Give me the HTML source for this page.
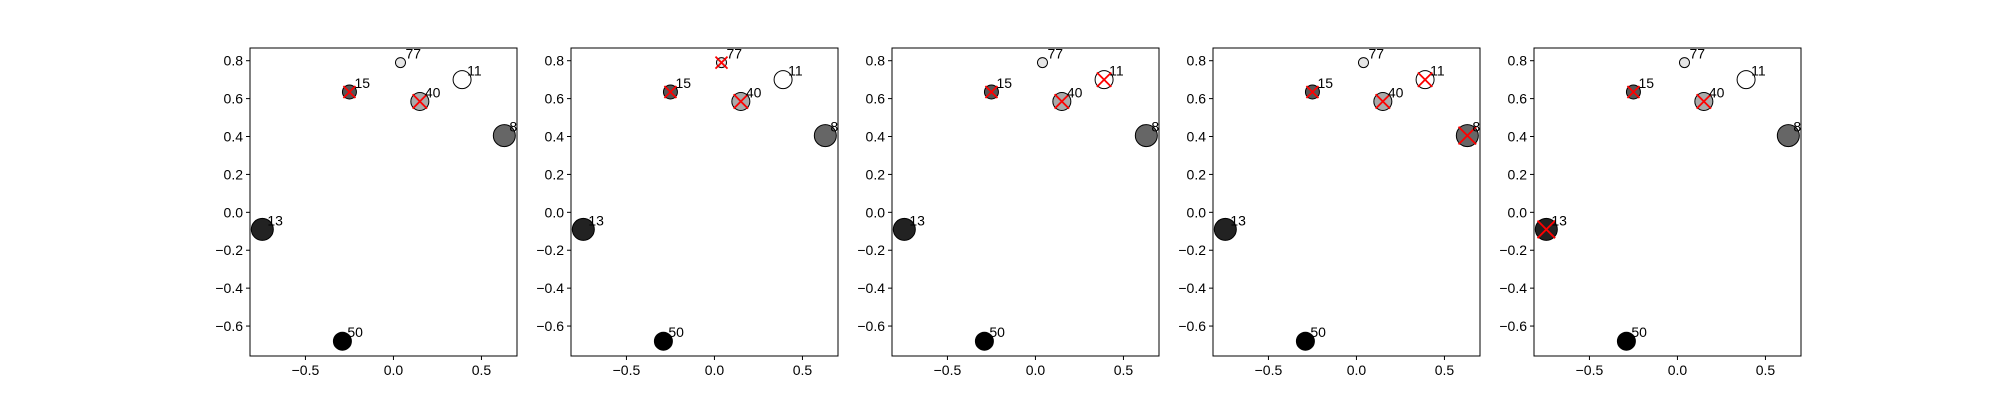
<!DOCTYPE html>
<html><head><meta charset="utf-8"><style>
body{margin:0;background:#fff}
svg{display:block;font-family:"Liberation Sans","DejaVu Sans",sans-serif}
</style></head><body>
<svg id="chart" width="2000" height="400" viewBox="0 0 2000 400"></svg>
<script>
const labels=["13","50","15","77","40","11","8"];
const xs=[-0.745,-0.29,-0.25,0.04,0.15,0.39,0.63];
const ys=[-0.09,-0.68,0.635,0.79,0.585,0.70,0.405];
const radii=[11,9,7,5,9,9,11];
const fills=["#222222","#000000","#555555","#e6e6e6","#aaaaaa","#ffffff","#666666"];
const highlighted=[["15","40"],["15","40","77"],["15","40","11"],["15","40","11","8"],["15","40","13"]];
const xTicks=[-0.5,0.0,0.5];
const xTickLabels=["\u22120.5","0.0","0.5"];
const yTicks=[-0.6,-0.4,-0.2,0.0,0.2,0.4,0.6,0.8];
const yTickLabels=["\u22120.6","\u22120.4","\u22120.2","0.0","0.2","0.4","0.6","0.8"];

const NS="http://www.w3.org/2000/svg";
const svg=document.getElementById('chart');
const W=267,TOP=48,BOT=356,PITCH=321,LEFT0=250;
const XMIN=-0.815,XMAX=0.702,YMIN=-0.758,YMAX=0.867;
function mk(tag,attrs,parent){const e=document.createElementNS(NS,tag);for(const k in attrs)e.setAttribute(k,attrs[k]);parent.appendChild(e);return e;}
highlighted.forEach((hl,p)=>{
  const L=LEFT0+p*PITCH;
  const sx=v=>L+(v-XMIN)/(XMAX-XMIN)*W;
  const sy=v=>BOT-(v-YMIN)/(YMAX-YMIN)*(BOT-TOP);
  const g=mk('g',{},svg);
  
  
  xTicks.forEach((t,i)=>{
    const x=sx(t);
    const tl=mk('line',{x1:x,x2:x,y1:BOT,y2:BOT+4,stroke:'#000','stroke-width':1},g);
    
    
    const tx=mk('text',{x:x,y:BOT+19,'text-anchor':'middle','font-size':14,fill:'#000'},g);
    tx.textContent=xTickLabels[i];
    
    
  });
  yTicks.forEach((t,i)=>{
    const y=sy(t);
    const tl=mk('line',{x1:L-4,x2:L,y1:y,y2:y,stroke:'#000','stroke-width':1},g);
    
    
    const tx=mk('text',{x:L-7,y:y+5,'text-anchor':'end','font-size':14,fill:'#000'},g);
    tx.textContent=yTickLabels[i];
    
    
  });
  labels.forEach((lb,i)=>{
    const cx=sx(xs[i]),cy=sy(ys[i]),r=radii[i];
    const c=mk('circle',{cx:cx,cy:cy,r:r,fill:fills[i],stroke:'#000','stroke-width':1},g);
    
    
    if(hl.includes(lb)){
      const d=Math.max(r*0.8,6);
      const x1=mk('path',{d:`M${cx-d},${cy-d}L${cx+d},${cy+d}M${cx-d},${cy+d}L${cx+d},${cy-d}`,stroke:'#ff0000','stroke-width':1.8,fill:'none'},g);
      
      
    }
    const t=mk('text',{x:cx+5,y:cy-4,'font-size':14,fill:'#000'},g);
    t.textContent=lb;
    
    
  });
  const fr=mk('rect',{x:L,y:TOP,width:W,height:BOT-TOP,fill:'none',stroke:'#000','stroke-width':1},g);
  
  
});
</script>
</body></html>
